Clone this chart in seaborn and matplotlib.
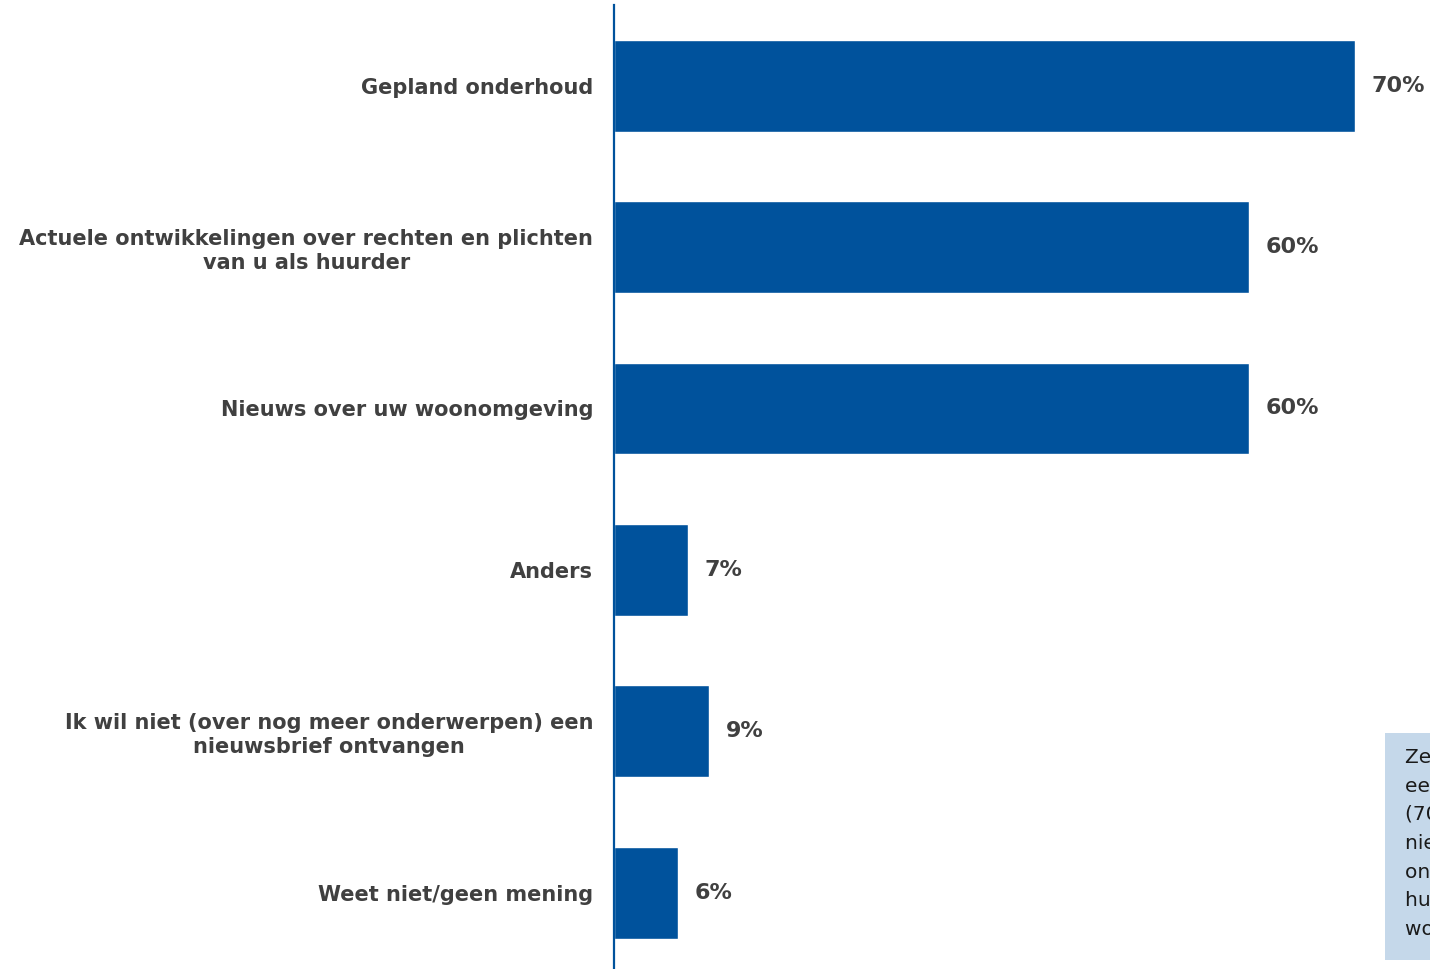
import matplotlib
matplotlib.use("Agg")
import matplotlib.pyplot as plt
import matplotlib.patches as mpatches
import pandas as pd
import seaborn as sns

# Survey answers: which topics should a tenant newsletter cover?
categories = [
    "Gepland onderhoud",
    "Actuele ontwikkelingen over rechten en plichten\nvan u als huurder",
    "Nieuws over uw woonomgeving",
    "Anders",
    "Ik wil niet (over nog meer onderwerpen) een\nnieuwsbrief ontvangen",
    "Weet niet/geen mening",
]
percentages = [70, 60, 60, 7, 9, 6]
value_labels = ["70%", "60%", "60%", "7%", "9%", "6%"]

note_lines = [
    "Zeven op de tien huurders wil",
    "een nieuwsbrief over gepland onderhoud",
    "(70%). Zes op de tien wil",
    "nieuws over actuele",
    "ontwikkelingen over rechten en plichten",
    "huurders en over de",
    "woonomgeving (60%).",
]

BAR_BLUE = "#00529C"
TEXT_GREY = "#404040"
NOTE_BG = "#C5D8EA"

df = pd.DataFrame({"onderwerp": categories, "percentage": percentages})

sns.set_theme(style="white")
plt.rcParams["font.family"] = ["DejaVu Sans"]

W, H = 1430, 969
fig = plt.figure(figsize=(W / 100, H / 100), dpi=100)

# axes: left edge on the vertical baseline, categories spaced ~161 px apart
ax_left = 614 / W
ax_top = 5
ax_height_px = 6 * 161.4
ax = fig.add_axes([ax_left, (H - ax_top - ax_height_px) / H, 1 - ax_left, ax_height_px / H])

sns.barplot(
    data=df, x="percentage", y="onderwerp", orient="h",
    color=BAR_BLUE, saturation=1, width=0.57, ax=ax,
)

px_per_pct = (1355 - 614) / 70
ax.set_xlim(0, (W - 614) / px_per_pct)
ax.set_ylim(5.5, -0.5)

ax.bar_label(
    ax.containers[0], labels=value_labels, padding=12,
    fontsize=16, fontweight="bold", color=TEXT_GREY,
)

ax.set_xlabel("")
ax.set_ylabel("")
ax.set_xticks([])
ax.tick_params(axis="y", length=0, pad=15)
for lab in ax.get_yticklabels():
    lab.set_fontsize(15)
    lab.set_fontweight("bold")
    lab.set_color(TEXT_GREY)
    lab.set_multialignment("center")
    lab.set_linespacing(1.25)

for side in ["top", "right", "bottom"]:
    ax.spines[side].set_visible(False)
ax.spines["left"].set_color(BAR_BLUE)
ax.spines["left"].set_linewidth(1.6)

# side note box, running off the right edge of the figure
box_x0, box_y_top, box_y_bot = 1385, 733, 960
fig.patches.append(mpatches.Rectangle(
    (box_x0 / W, (H - box_y_bot) / H), (W - box_x0 + 200) / W, (box_y_bot - box_y_top) / H,
    transform=fig.transFigure, facecolor=NOTE_BG, edgecolor="none", zorder=0,
))
fig.text(
    1405 / W, (H - 748) / H, "\n".join(note_lines),
    ha="left", va="top", fontsize=14.5, color="#1a1a1a", linespacing=1.645,
)

fig.savefig("out.png", dpi=100)
